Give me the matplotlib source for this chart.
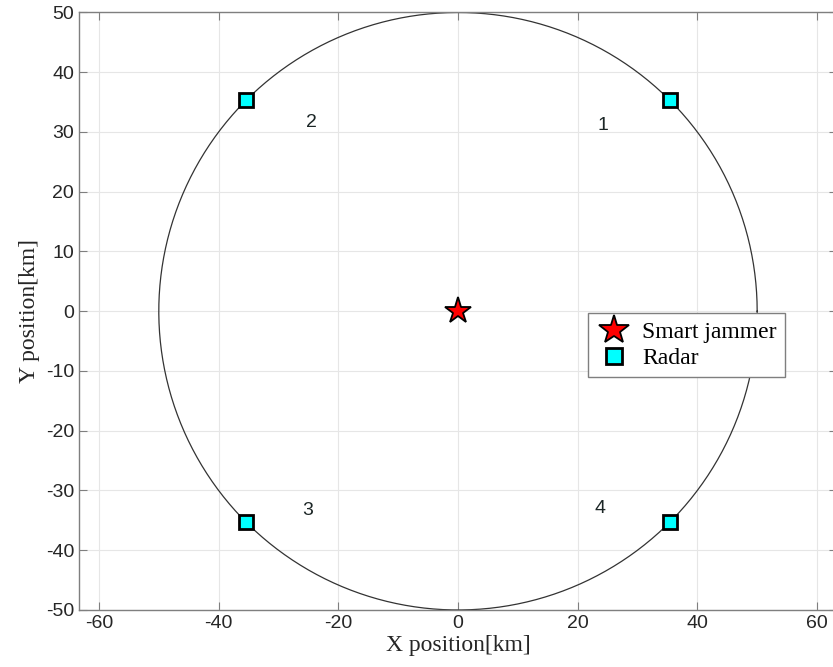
import numpy as np
import matplotlib.pyplot as plt

plt.rcParams['axes.unicode_minus'] = False

# scenario data
circle_radius = 50
jammer_x = [0]
jammer_y = [0]
radar_x = [35.36, -35.36, -35.36, 35.36]
radar_y = [35.36, 35.36, -35.36, -35.36]
label_text = ['1', '2', '3', '4']
label_x = [24.3, -24.5, -25.2, 23.7]
label_y = [31.0, 31.6, -33.3, -33.0]

xticks = [-60, -40, -20, 0, 20, 40, 60]
yticks = list(range(-50, 51, 10))

fig = plt.figure(figsize=(8.33, 6.67), dpi=100)
ax = fig.add_axes([0.0948, 0.0855, 0.91, 0.8958])

theta = np.linspace(0, 2 * np.pi, 400)
ax.plot(circle_radius * np.cos(theta), circle_radius * np.sin(theta),
        color='#333333', linewidth=0.9, zorder=2)

ax.plot(jammer_x, jammer_y, linestyle='none', marker='*', markersize=20,
        markerfacecolor='red', markeredgecolor='black', markeredgewidth=1.3,
        label='Smart jammer', zorder=4)
ax.plot(radar_x, radar_y, linestyle='none', marker='s', markersize=10,
        markerfacecolor='cyan', markeredgecolor='black', markeredgewidth=2,
        label='Radar', zorder=4)

for t, x, y in zip(label_text, label_x, label_y):
    ax.text(x, y, t, fontsize=14, family='Liberation Sans', color='#1c2626',
            ha='center', va='center')

ax.set_xlim(-63.34, 63.34)
ax.set_ylim(-50, 50)
ax.set_xticks(xticks)
ax.set_yticks(yticks)
ax.grid(True, color='#e6e6e6', linewidth=0.8)
ax.set_axisbelow(True)

for s in ax.spines.values():
    s.set_color('#7f7f7f')
    s.set_linewidth(1.0)
ax.tick_params(direction='in', top=True, right=True, colors='#7f7f7f',
               labelcolor='#262626', labelsize=14, length=6)
for lbl in ax.get_xticklabels() + ax.get_yticklabels():
    lbl.set_family('Liberation Sans')

ax.set_xlabel('X position[km]', family='Liberation Serif', fontsize=17,
              labelpad=2, color='#262626')
ax.set_ylabel('Y position[km]', family='Liberation Serif', fontsize=17,
              labelpad=4, color='#262626')

leg = ax.legend(loc='upper left', bbox_to_anchor=(0.6715, 0.497),
                borderaxespad=0, fancybox=False, framealpha=1,
                edgecolor='#7f7f7f', prop={'family': 'Liberation Serif', 'size': 17},
                handletextpad=0.45, borderpad=0.35, labelspacing=0.2,
                handlelength=1.5, markerscale=1.1)
leg.get_frame().set_linewidth(1.0)

fig.savefig('out.png', dpi=100)
